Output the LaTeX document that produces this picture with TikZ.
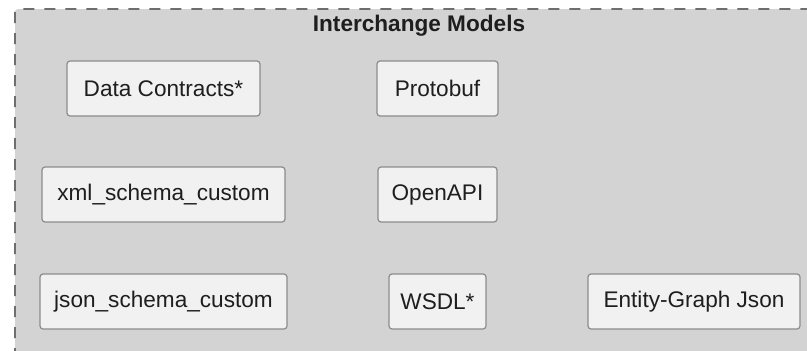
\documentclass[tikz,border=0pt]{standalone}
\usepackage{fontspec}
\setmainfont{Liberation Sans}
\begin{document}
\begin{tikzpicture}[x=1pt,y=-1pt,
  modelbox/.style={draw=boxline,fill=boxfill,rounded corners=3pt,line width=1.2pt},
  lbl/.style={text=txt,font=\fontsize{22.6}{25}\selectfont}]
\definecolor{bg}{HTML}{D3D3D3}
\definecolor{boxfill}{HTML}{F1F1F1}
\definecolor{boxline}{HTML}{8C8C8C}
\definecolor{frameline}{HTML}{6E6E6E}
\definecolor{txt}{HTML}{1E1E1E}
\useasboundingbox (0,0) rectangle (807,351);
\fill[white] (0,0) rectangle (807,351);
\begin{scope}
\clip (0,0) rectangle (807,351);
\draw[fill=bg,draw=frameline,line width=2pt,dash pattern=on 11pt off 10pt,rounded corners=3pt] (15,380) -- (15,9) -- (830,9);
\fill[bg] (16,10) rectangle (830,380);
\end{scope}
\node[text=txt,font=\bfseries\fontsize{22.6}{25}\selectfont] (title) at (419,26) {Interchange Models};
\draw[modelbox] (67,61) rectangle (260,116) node[midway,lbl] (dc) {Data Contracts*};
\draw[modelbox] (377,61) rectangle (498,116) node[midway,lbl] (pb) {Protobuf};
\draw[modelbox] (42,167) rectangle (285,222) node[midway,lbl] (xml) {xml\_schema\_custom};
\draw[modelbox] (378,167) rectangle (497,222) node[midway,lbl] (oa) {OpenAPI};
\draw[modelbox] (40,274) rectangle (287,329) node[midway,lbl] (js) {json\_schema\_custom};
\draw[modelbox] (389,274) rectangle (486,329) node[midway,lbl] (wsdl) {WSDL*};
\draw[modelbox] (588,274) rectangle (800,329) node[midway,lbl] (eg) {Entity-Graph Json};
\end{tikzpicture}
\end{document}
